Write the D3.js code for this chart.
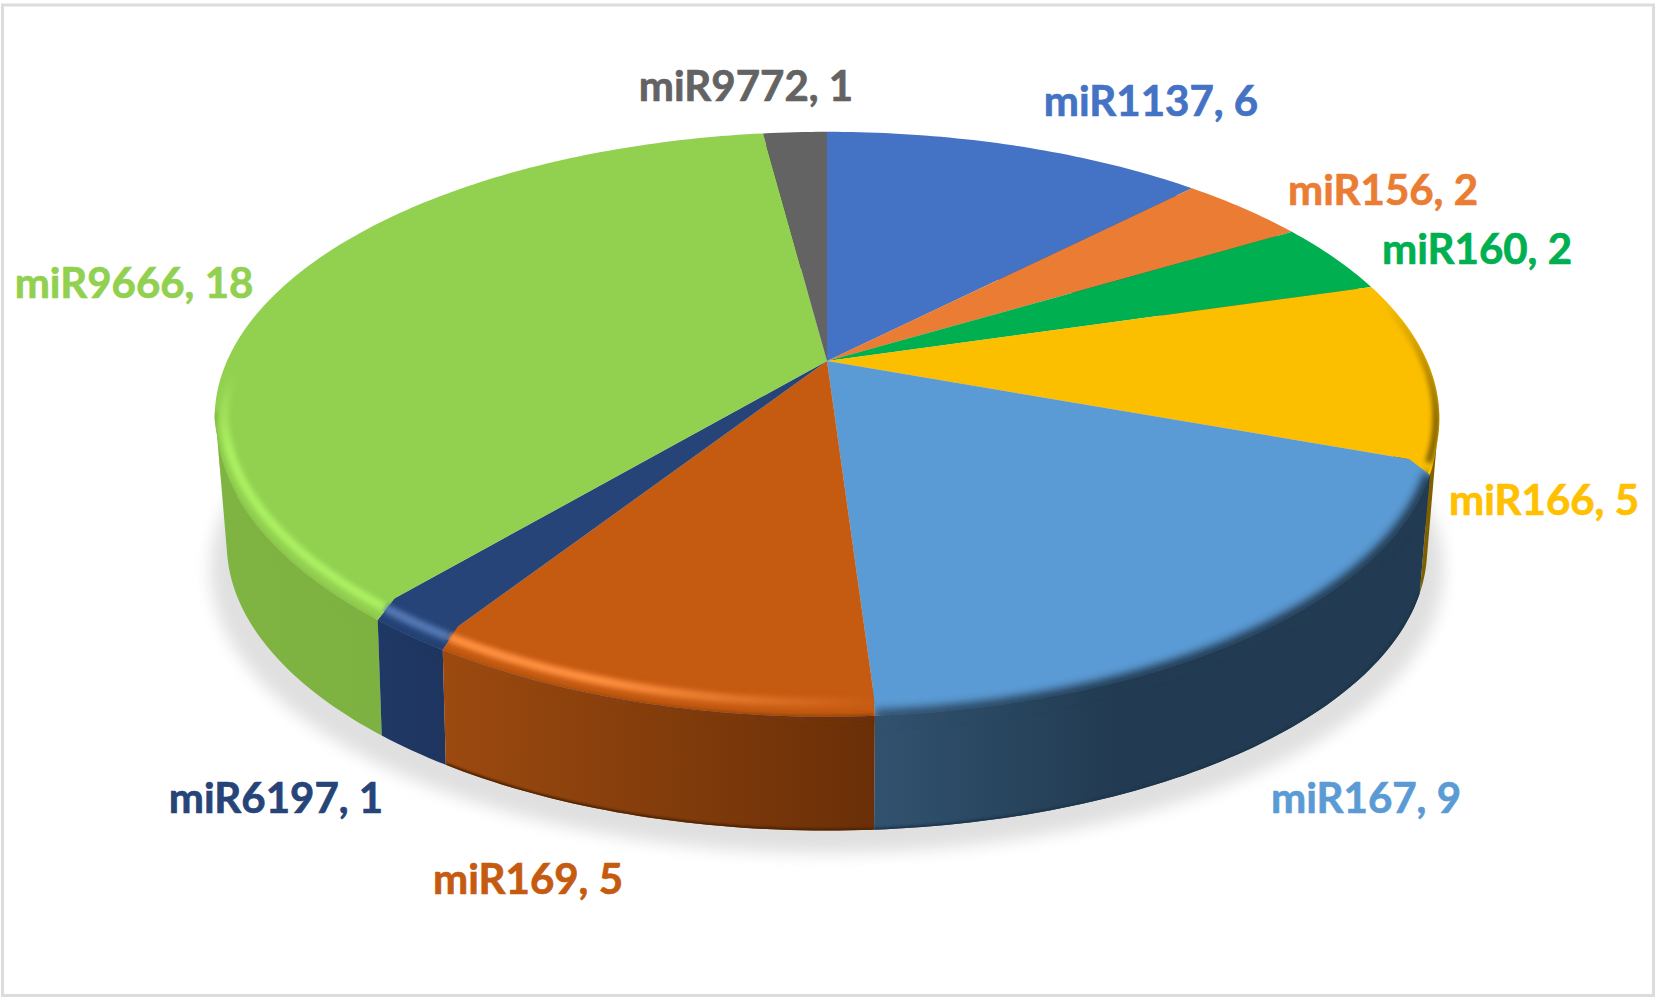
<!DOCTYPE html>
<html><head><meta charset="utf-8">
<script src="https://d3js.org/d3.v7.min.js"></script>
<style>html,body{margin:0;padding:0;background:#fff}svg{display:block}text{font-family:Lato,"Open Sans",sans-serif;font-weight:700}</style>
</head><body><div id="chart"></div>
<script>
// data
const categories = ["miR1137","miR156","miR160","miR166","miR167","miR169","miR6197","miR9666","miR9772"];
const counts = [6,2,2,5,9,5,1,18,1];
// styles
const topColors  = ["#4472c4","#ea7d33","#00b050","#fcbf00","#5b9bd5","#c55a11","#264478","#92d050","#636363"];
const sideLeft   = ["#2f4f88","#a65722","#007b38","#7f6000","#31526f","#9c4a0f","#1f3864","#7fb442","#454545"];
const sideRight  = ["#2f4f88","#a65722","#007b38","#7f6000","#223b52","#6a2f08","#1e3560","#78aa3e","#454545"];
const rimColors  = ["#4472c4","#ea7d33","#00b050","#7f6000","#2c4a66","#ff9040","#5377b3","#abf062","#636363"];
// label centres and baselines, one per category
const labelX = [1151,1383,1477,1544,1366,528,276,134,746];
const labelY = [116,205,264,515,813,894,813,298,101];

const W = 1663, H = 1003;
const svg = d3.select("#chart").append("svg").attr("width",W).attr("height",H);
const defs = svg.append("defs");
function blur(id,s){defs.append("filter").attr("id",id).attr("filterUnits","userSpaceOnUse")
  .attr("x",0).attr("y",0).attr("width",W).attr("height",H)
  .append("feGaussianBlur").attr("stdDeviation",s);}
blur("b1",1); blur("b3",2.8); blur("b4",4.5); blur("b9",8);

svg.append("rect").attr("x",2.5).attr("y",5).attr("width",1651).attr("height",990.5)
  .attr("fill","#fff").attr("stroke","#dcdcdc").attr("stroke-width",3);

// perspective projection of the pie's unit circle onto stacked planes
const k = 0.2;
const planeTop = {cx:827, cy:361, A:600, B:275, s:24};
const planeHi  = {cx:827, cy:365, A:600, B:275, s:24};
const planeMid = {cx:827, cy:373, A:598, B:275, s:22};
const planeBot = {cx:827, cy:493, A:588, B:270, s:12};
const planeSh  = {cx:827, cy:513, A:604, B:272, s:0};
function proj(pl,a,r=1){
  const X=r*Math.sin(a), Y=-r*Math.cos(a), w=1-k*Y;
  return [pl.cx+pl.A*X/w+pl.s*Math.max(0,-X)*Math.max(0,Y-0.2), pl.cy+pl.B*Y/w];
}
const arcs = d3.pie().sort(null).value(d=>d)(counts);
const line = d3.line();
const samples = d=>{const n=Math.max(6,Math.ceil((d.endAngle-d.startAngle)*60));
  return d3.range(n+1).map(i=>d.startAngle+(d.endAngle-d.startAngle)*i/n);};
const wedge = d=>line([[planeTop.cx,planeTop.cy],...samples(d).map(a=>proj(planeTop,a))])+"Z";
const ring = (d,pl,r=1)=>line(samples(d).map(a=>proj(pl,a,r)));
// same ring, kept only on the near half of the disc
const frontRing = (d,pl,r=1)=>line(samples(d).filter(a=>Math.cos(a)<-0.12).map(a=>proj(pl,a,r)));
// band between two rings, as a union of small same-winding hulls
function band(d,p1,r1,p2,r2){
  const s=samples(d); let out="";
  for(let i=0;i<s.length-1;i++){
    const h=d3.polygonHull([proj(p1,s[i],r1),proj(p1,s[i+1],r1),proj(p2,s[i+1],r2),proj(p2,s[i],r2)]);
    if(h) out+=line(h)+"Z";
  }
  return out;
}
const sideP  = d=>band(d,planeMid,1,planeBot,1);
const bevelP = d=>band(d,planeTop,0.965,planeMid,1);
const whole = {startAngle:0,endAngle:2*Math.PI};

// shadow
svg.append("path").attr("d",ring(whole,planeSh)+"Z").attr("fill","#e0e0e0").attr("filter","url(#b9)");

// gradients and clips
arcs.forEach((d,i)=>{
  const xs=samples(d).map(a=>proj(planeBot,a)[0]);
  const g=defs.append("linearGradient").attr("id","side"+i).attr("gradientUnits","userSpaceOnUse")
    .attr("x1",d3.min(xs)).attr("x2",i==4?d3.min(xs)+240:d3.max(xs)).attr("y1",0).attr("y2",0);
  g.append("stop").attr("offset",0).attr("stop-color",sideLeft[i]);
  g.append("stop").attr("offset",1).attr("stop-color",sideRight[i]);
  const c=defs.append("clipPath").attr("id","clip"+i);
  c.append("path").attr("d",wedge(d)); c.append("path").attr("d",bevelP(d)); c.append("path").attr("d",sideP(d));
  const f=defs.append("linearGradient").attr("id","rim"+i).attr("gradientUnits","userSpaceOnUse");
  if(i==5){
    f.attr("x1",600).attr("x2",880).attr("y1",0).attr("y2",0);
    f.append("stop").attr("offset",0).attr("stop-color",rimColors[i]);
    f.append("stop").attr("offset",1).attr("stop-color",topColors[i]);
  } else {
    f.attr("x1",0).attr("x2",0).attr("y1",i==3?300:370).attr("y2",i==3?420:450);
    f.append("stop").attr("offset",0).attr("stop-color",rimColors[i]).attr("stop-opacity",0);
    f.append("stop").attr("offset",1).attr("stop-color",rimColors[i]).attr("stop-opacity",1);
  }
});

// sides, back to front
const order = [0,1,2,8,3,7,4,6,5];
svg.append("g").selectAll("path").data(order).join("path")
  .attr("d",i=>sideP(arcs[i])).attr("fill",i=>`url(#side${i})`);

// dark bottom edge on the two darkest front slices
const edges = svg.append("g");
[4,5].forEach(i=>{
  edges.append("g").attr("clip-path",`url(#clip${i})`).append("path")
    .attr("d",ring(arcs[i],planeBot)).attr("fill","none")
    .attr("stroke",d3.color(sideRight[i]).darker(i==5?0.9:0.3)).attr("stroke-width",4).attr("filter","url(#b1)");
});

// top face, bevel strip in the face colour over it
svg.append("g").selectAll("path").data(arcs).join("path")
  .attr("d",wedge).attr("fill",(d,i)=>topColors[i]);
svg.append("g").selectAll("path").data(arcs.filter((d,i)=>i>2&&i<8)).join("path")
  .attr("d",bevelP).attr("fill",d=>topColors[d.index]);

// bevel shading
const rims = svg.append("g");
arcs.forEach((d,i)=>{
  const g=rims.append("g").attr("clip-path",`url(#clip${i})`);
  if(i==3){
    g.append("path").attr("d",ring(d,planeTop,0.995)).attr("fill","none")
      .attr("stroke",`url(#rim${i})`).attr("stroke-width",7).attr("filter","url(#b3)");
  } else if(i==4){
    g.append("path").attr("d",frontRing(d,planeMid,1)).attr("fill","none")
      .attr("stroke",`url(#side${i})`).attr("stroke-width",13).attr("filter","url(#b4)");
  } else if(i>4&&i<8){
    g.append("path").attr("d",frontRing(d,planeMid,1.005)).attr("fill","none")
      .attr("stroke",`url(#side${i})`).attr("stroke-width",5).attr("filter","url(#b3)");
    g.append("path").attr("d",ring(d,planeHi,0.985)).attr("fill","none")
      .attr("stroke",`url(#rim${i})`).attr("stroke-width",9).attr("filter","url(#b3)");
  }
});

// labels
svg.append("g").selectAll("text").data(categories).join("text")
  .attr("x",(d,i)=>labelX[i]).attr("y",(d,i)=>labelY[i]).attr("text-anchor","middle")
  .attr("font-size",42).attr("fill",(d,i)=>i==3?"#ffc000":topColors[i])
  .attr("stroke",(d,i)=>i==3?"#ffc000":topColors[i]).attr("stroke-width",0.7)
  .text((d,i)=>`${d}, ${counts[i]}`);
</script></body></html>
